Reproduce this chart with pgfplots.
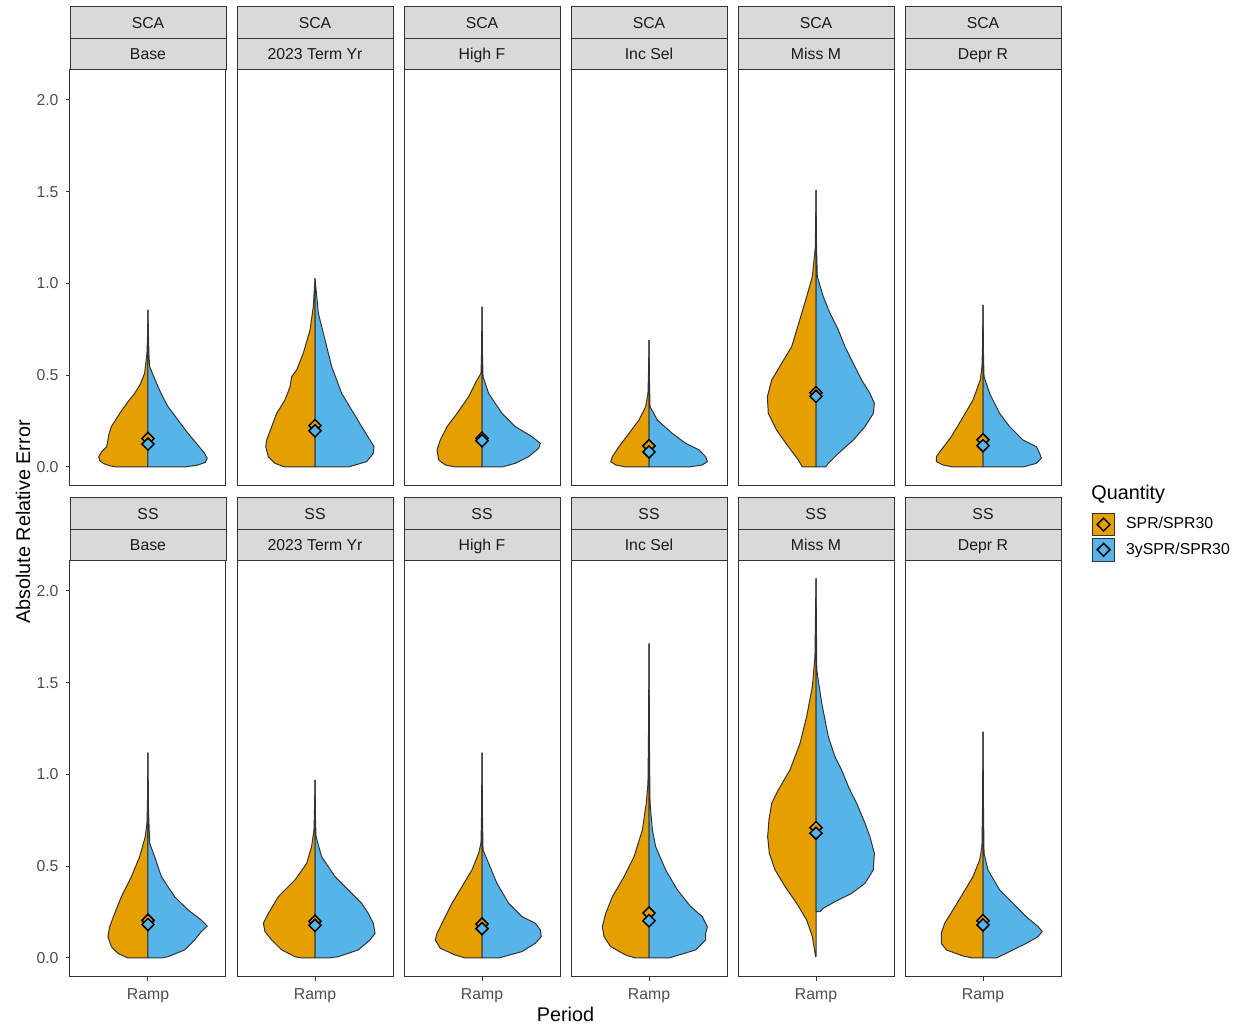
\documentclass[border=0pt]{standalone}
\usepackage{pgfplots}
\pgfplotsset{compat=1.18}
\usepackage{pgfplotstable}
\usepackage{fontspec}
\setmainfont{Liberation Sans}
\definecolor{orL}{HTML}{E69F00}
\definecolor{blR}{HTML}{56B4E9}
\definecolor{grey20}{HTML}{333333}
\definecolor{grey30}{HTML}{4D4D4D}
\definecolor{grey85}{HTML}{D9D9D9}
\definecolor{grey10}{HTML}{1A1A1A}

% ---------------- SCA row ----------------
\pgfplotstableread[row sep=\\]{y w\\
0.856 0\\ 0.70 0.004\\ 0.619 0.008\\ 0.510 0.026\\ 0.45 0.06\\ 0.401 0.103\\ 0.35 0.16\\ 0.292 0.218\\
0.220 0.282\\ 0.180 0.30\\ 0.147 0.308\\ 0.111 0.318\\ 0.084 0.355\\ 0.056 0.379\\ 0.035 0.372\\
0.018 0.34\\ 0.006 0.29\\ 0 0.24\\ 0 0\\ 0.856 0\\}\scaBaseL
\pgfplotstableread[row sep=\\]{y w\\
0.856 0\\ 0.70 0.004\\ 0.60 0.008\\ 0.547 0.013\\ 0.50 0.04\\ 0.438 0.077\\ 0.38 0.115\\ 0.329 0.154\\
0.256 0.231\\ 0.183 0.308\\ 0.129 0.372\\ 0.074 0.436\\ 0.047 0.456\\ 0.025 0.44\\ 0.010 0.38\\
0 0.28\\ 0 0\\ 0.856 0\\}\scaBaseR
\pgfplotstableread[row sep=\\]{y w\\
1.028 0\\ 0.874 0.013\\ 0.747 0.038\\ 0.620 0.090\\ 0.529 0.141\\ 0.492 0.179\\ 0.438 0.192\\
0.365 0.231\\ 0.292 0.295\\ 0.220 0.333\\ 0.147 0.372\\ 0.111 0.379\\ 0.056 0.359\\ 0.020 0.308\\
0 0.231\\ 0 0\\ 1.028 0\\}\scaTermL
\pgfplotstableread[row sep=\\]{y w\\
1.028 0\\ 0.837 0.026\\ 0.656 0.090\\ 0.547 0.128\\ 0.474 0.167\\ 0.401 0.205\\ 0.311 0.282\\
0.220 0.359\\ 0.147 0.423\\ 0.111 0.454\\ 0.074 0.449\\ 0.029 0.397\\ 0 0.256\\ 0 0\\ 1.028 0\\}\scaTermR
\pgfplotstableread[row sep=\\]{y w\\
0.874 0\\ 0.60 0.004\\ 0.510 0.008\\ 0.474 0.038\\ 0.383 0.103\\ 0.292 0.192\\ 0.220 0.269\\
0.147 0.321\\ 0.093 0.346\\ 0.038 0.333\\ 0.011 0.282\\ 0 0.205\\ 0 0\\ 0.874 0\\}\scaHighL
\pgfplotstableread[row sep=\\]{y w\\
0.874 0\\ 0.60 0.004\\ 0.492 0.008\\ 0.401 0.051\\ 0.292 0.154\\ 0.220 0.256\\ 0.165 0.385\\
0.129 0.449\\ 0.102 0.436\\ 0.056 0.359\\ 0.020 0.256\\ 0 0.154\\ 0 0\\ 0.874 0\\}\scaHighR
\pgfplotstableread[row sep=\\]{y w\\
0.692 0\\ 0.50 0.004\\ 0.401 0.008\\ 0.329 0.026\\ 0.256 0.077\\ 0.183 0.154\\ 0.111 0.231\\
0.056 0.282\\ 0.029 0.295\\ 0.011 0.256\\ 0 0.179\\ 0 0\\ 0.692 0\\}\scaIncL
\pgfplotstableread[row sep=\\]{y w\\
0.692 0\\ 0.45 0.004\\ 0.329 0.008\\ 0.256 0.064\\ 0.183 0.179\\ 0.129 0.282\\ 0.093 0.385\\
0.056 0.436\\ 0.029 0.449\\ 0.011 0.410\\ 0 0.308\\ 0 0\\ 0.692 0\\}\scaIncR
\pgfplotstableread[row sep=\\]{y w\\
1.510 0\\ 1.20 0.005\\ 1.037 0.028\\ 0.928 0.072\\ 0.837 0.110\\ 0.746 0.149\\ 0.656 0.187\\
0.565 0.264\\ 0.474 0.341\\ 0.383 0.374\\ 0.292 0.367\\ 0.201 0.303\\ 0.111 0.213\\ 0.038 0.136\\
0 0.105\\ 0 0\\ 1.510 0\\}\scaMissL
\pgfplotstableread[row sep=\\]{y w\\
1.510 0\\ 1.20 0.004\\ 1.037 0.010\\ 1.019 0.018\\ 0.928 0.056\\ 0.837 0.108\\ 0.746 0.172\\
0.656 0.223\\ 0.565 0.287\\ 0.474 0.351\\ 0.401 0.415\\ 0.347 0.449\\ 0.292 0.441\\ 0.220 0.377\\
0.147 0.287\\ 0.074 0.172\\ 0.020 0.095\\ 0 0.074\\ 0 0\\ 1.510 0\\}\scaMissR
\pgfplotstableread[row sep=\\]{y w\\
0.883 0\\ 0.65 0.004\\ 0.547 0.008\\ 0.474 0.021\\ 0.365 0.077\\ 0.256 0.167\\ 0.165 0.244\\
0.093 0.321\\ 0.056 0.359\\ 0.029 0.359\\ 0.011 0.308\\ 0 0.231\\ 0 0\\ 0.883 0\\}\scaDeprL
\pgfplotstableread[row sep=\\]{y w\\
0.883 0\\ 0.60 0.004\\ 0.492 0.008\\ 0.401 0.051\\ 0.292 0.128\\ 0.220 0.205\\ 0.147 0.308\\
0.111 0.410\\ 0.074 0.436\\ 0.047 0.449\\ 0.020 0.410\\ 0 0.308\\ 0 0\\ 0.883 0\\}\scaDeprR

% ---------------- SS row ----------------
\pgfplotstableread[row sep=\\]{y w\\
1.119 0\\ 0.85 0.004\\ 0.734 0.008\\ 0.661 0.021\\ 0.552 0.064\\ 0.443 0.128\\ 0.334 0.205\\
0.243 0.256\\ 0.171 0.295\\ 0.116 0.308\\ 0.062 0.282\\ 0.025 0.231\\ 0 0.154\\ 0 0\\ 1.119 0\\}\ssBaseL
\pgfplotstableread[row sep=\\]{y w\\
1.119 0\\ 0.80 0.004\\ 0.625 0.013\\ 0.552 0.051\\ 0.443 0.103\\ 0.334 0.205\\ 0.262 0.308\\
0.207 0.410\\ 0.174 0.456\\ 0.144 0.410\\ 0.098 0.359\\ 0.044 0.282\\ 0.007 0.154\\ 0 0.103\\
0 0\\ 1.119 0\\}\ssBaseR
\pgfplotstableread[row sep=\\]{y w\\
0.970 0\\ 0.80 0.004\\ 0.698 0.008\\ 0.607 0.026\\ 0.516 0.064\\ 0.425 0.154\\ 0.334 0.282\\
0.243 0.359\\ 0.189 0.397\\ 0.144 0.385\\ 0.098 0.333\\ 0.044 0.256\\ 0.007 0.154\\ 0 0.103\\
0 0\\ 0.970 0\\}\ssTermL
\pgfplotstableread[row sep=\\]{y w\\
0.970 0\\ 0.75 0.004\\ 0.661 0.008\\ 0.552 0.051\\ 0.443 0.154\\ 0.371 0.256\\ 0.298 0.359\\
0.243 0.410\\ 0.189 0.449\\ 0.134 0.462\\ 0.098 0.423\\ 0.044 0.333\\ 0.007 0.179\\ 0 0.103\\
0 0\\ 0.970 0\\}\ssTermR
\pgfplotstableread[row sep=\\]{y w\\
1.119 0\\ 0.75 0.004\\ 0.625 0.008\\ 0.570 0.026\\ 0.480 0.077\\ 0.389 0.154\\ 0.298 0.231\\
0.207 0.295\\ 0.134 0.346\\ 0.098 0.359\\ 0.053 0.321\\ 0.016 0.205\\ 0 0.128\\ 0 0\\ 1.119 0\\}\ssHighL
\pgfplotstableread[row sep=\\]{y w\\
1.119 0\\ 0.75 0.004\\ 0.589 0.008\\ 0.516 0.051\\ 0.407 0.115\\ 0.298 0.205\\ 0.225 0.308\\
0.189 0.410\\ 0.153 0.449\\ 0.116 0.456\\ 0.080 0.410\\ 0.035 0.308\\ 0 0.128\\ 0 0\\ 1.119 0\\}\ssHighR
\pgfplotstableread[row sep=\\]{y w\\
1.715 0\\ 1.20 0.004\\ 0.952 0.008\\ 0.843 0.021\\ 0.698 0.051\\ 0.552 0.115\\ 0.443 0.192\\
0.334 0.282\\ 0.243 0.333\\ 0.171 0.359\\ 0.116 0.346\\ 0.062 0.295\\ 0.016 0.179\\ 0 0.103\\
0 0\\ 1.715 0\\}\ssIncL
\pgfplotstableread[row sep=\\]{y w\\
1.715 0\\ 1.10 0.004\\ 0.843 0.008\\ 0.698 0.026\\ 0.607 0.051\\ 0.480 0.128\\ 0.371 0.218\\
0.280 0.321\\ 0.225 0.410\\ 0.171 0.449\\ 0.134 0.436\\ 0.098 0.436\\ 0.044 0.359\\ 0 0.154\\
0 0\\ 1.715 0\\}\ssIncR
\pgfplotstableread[row sep=\\]{y w\\
2.069 0\\ 1.642 0.008\\ 1.479 0.028\\ 1.315 0.072\\ 1.170 0.123\\ 1.025 0.200\\ 0.916 0.290\\
0.843 0.341\\ 0.752 0.362\\ 0.661 0.372\\ 0.570 0.359\\ 0.480 0.315\\ 0.389 0.238\\ 0.298 0.149\\
0.207 0.072\\ 0.116 0.028\\ 0.007 0.003\\ 0.007 0\\ 2.069 0\\}\ssMissL
\pgfplotstableread[row sep=\\]{y w\\
2.069 0\\ 1.569 0.006\\ 1.388 0.044\\ 1.206 0.095\\ 1.097 0.146\\ 1.025 0.197\\ 0.934 0.249\\
0.843 0.313\\ 0.734 0.377\\ 0.661 0.415\\ 0.570 0.449\\ 0.480 0.441\\ 0.407 0.377\\ 0.352 0.274\\
0.307 0.146\\ 0.271 0.056\\ 0.253 0.031\\ 0.253 0\\ 2.069 0\\}\ssMissR
\pgfplotstableread[row sep=\\]{y w\\
1.233 0\\ 0.80 0.004\\ 0.607 0.008\\ 0.534 0.026\\ 0.443 0.077\\ 0.352 0.154\\ 0.262 0.231\\
0.189 0.295\\ 0.134 0.321\\ 0.080 0.321\\ 0.044 0.282\\ 0.011 0.154\\ 0 0.077\\ 0 0\\ 1.233 0\\}\ssDeprL
\pgfplotstableread[row sep=\\]{y w\\
1.233 0\\ 0.80 0.004\\ 0.570 0.008\\ 0.480 0.038\\ 0.371 0.128\\ 0.298 0.231\\ 0.225 0.333\\
0.171 0.423\\ 0.144 0.456\\ 0.116 0.423\\ 0.080 0.333\\ 0.035 0.205\\ 0 0.103\\ 0 0\\ 1.233 0\\}\ssDeprR

\pgfplotsset{
  facet/.style={scale only axis, width=78pt, height=208pt, anchor=north west,
    xmin=0.4, xmax=1.6, ymin=-0.1035, ymax=2.1635,
    axis line style={draw=grey20, line width=0.5pt},
    xtick=\empty, ytick=\empty, tick align=outside, tick pos=left,
    major tick length=2.2pt, tick style={draw=grey20, line width=0.5pt},
    ticklabel style={font=\fontsize{7.9}{9}\selectfont, text=grey30},
    /pgf/number format/assume math mode=true},
  ycol/.style={ytick={0,0.5,1,1.5,2}, yticklabels={0.0,0.5,1.0,1.5,2.0}},
  xrow/.style={xtick={1}, xticklabels={Ramp}},
  vio/.style={draw=grey20, line width=0.5pt, line join=round, fill=#1, forget plot, mark=none},
  mn/.style={only marks, mark=square*, mark size=2.15pt,
    mark options={rotate=45, fill=#1, draw=black, line width=0.75pt}, forget plot},
}

\newcommand{\facet}[8]{%
\begin{axis}[facet, at={(#1pt,#2pt)}, #7]
\addplot[vio=orL] table[x expr=1-\thisrow{w}, y=y] {#3};
\addplot[vio=blR] table[x expr=1+\thisrow{w}, y=y] {#4};
\addplot[mn=orL] coordinates {(1,#5)};
\addplot[mn=blR] coordinates {(1,#6)};
#8
\end{axis}}

\begin{document}
\begin{tikzpicture}
\useasboundingbox (0,0) rectangle (622pt,513pt);
% top row (SCA)
\facet{35}{478}{\scaBaseL}{\scaBaseR}{0.155}{0.125}{ycol}{}
\facet{118.5}{478}{\scaTermL}{\scaTermR}{0.225}{0.197}{}{}
\facet{202}{478}{\scaHighL}{\scaHighR}{0.157}{0.143}{}{}
\facet{285.5}{478}{\scaIncL}{\scaIncR}{0.115}{0.082}{}{}
\facet{369}{478}{\scaMissL}{\scaMissR}{0.405}{0.385}{}{}
\facet{452.5}{478}{\scaDeprL}{\scaDeprR}{0.148}{0.116}{}{}
% bottom row (SS)
\facet{35}{232.5}{\ssBaseL}{\ssBaseR}{0.205}{0.183}{ycol,xrow}{}
\facet{118.5}{232.5}{\ssTermL}{\ssTermR}{0.200}{0.178}{xrow}{}
\facet{202}{232.5}{\ssHighL}{\ssHighR}{0.185}{0.160}{xrow}{}
\facet{285.5}{232.5}{\ssIncL}{\ssIncR}{0.245}{0.203}{xrow}{}
\facet{369}{232.5}{\ssMissL}{\ssMissR}{0.710}{0.680}{xrow}{}
\facet{452.5}{232.5}{\ssDeprL}{\ssDeprR}{0.203}{0.180}{xrow,
  legend style={at={(axis description cs:1.1987,1.1154)}, anchor=north west,
    draw=none, fill=none, inner sep=0pt, outer sep=0pt, row sep=1pt,
    font=\fontsize{7.9}{9}\selectfont, nodes={inner sep=0pt, anchor=west},
    /tikz/every odd column/.append style={column sep=5.5pt}},
  legend cell align=left}{%
  \addlegendimage{legend image code/.code={
    \draw[fill=orL,draw=grey20,line width=0.4pt] (0pt,-5.6pt) rectangle (11.2pt,5.6pt);
    \draw[fill=orL,draw=black,line width=0.75pt] (5.6pt,3.2pt)--(8.8pt,0pt)--(5.6pt,-3.2pt)--(2.4pt,0pt)--cycle;}}
  \addlegendentry{SPR/SPR30}
  \addlegendimage{legend image code/.code={
    \draw[fill=blR,draw=grey20,line width=0.4pt] (0pt,-5.6pt) rectangle (11.2pt,5.6pt);
    \draw[fill=blR,draw=black,line width=0.75pt] (5.6pt,3.2pt)--(8.8pt,0pt)--(5.6pt,-3.2pt)--(2.4pt,0pt)--cycle;}}
  \addlegendentry{3ySPR/SPR30}}
% strips
\foreach \c/\lab in {0/Base,1/2023 Term Yr,2/High F,3/Inc Sel,4/Miss M,5/Depr R}{
  \foreach \yt/\grp in {509.5/SCA,264/SS}{
    \pgfmathsetmacro\xl{35+83.5*\c}
    \pgfmathsetmacro\xm{\xl+39}
    \pgfmathsetmacro\ya{\yt-15.75}
    \pgfmathsetmacro\yb{\yt-7.875-2.83}
    \pgfmathsetmacro\yc{\yt-23.625-2.83}
    \draw[fill=grey85, draw=grey20, line width=0.5pt] (\xl pt,\yt pt) rectangle ++(78pt,-15.75pt);
    \draw[fill=grey85, draw=grey20, line width=0.5pt] (\xl pt,\ya pt) rectangle ++(78pt,-15.75pt);
    \node[anchor=base, inner sep=0pt, font=\fontsize{7.9}{9}\selectfont, text=grey10] at (\xm pt,\yb pt) {\grp};
    \node[anchor=base, inner sep=0pt, font=\fontsize{7.9}{9}\selectfont, text=grey10] at (\xm pt,\yc pt) {\lab};
  }
}
% titles
\node[rotate=90, inner sep=0pt, font=\fontsize{9.9}{11}\selectfont] at (11.5pt,252pt) {Absolute Relative Error};
\node[inner sep=0pt, font=\fontsize{9.9}{11}\selectfont] at (282.75pt,6pt) {Period};
\node[anchor=base west, inner sep=0pt, font=\fontsize{9.9}{11}\selectfont] at (545.5pt,263pt) {Quantity};
\end{tikzpicture}
\end{document}
